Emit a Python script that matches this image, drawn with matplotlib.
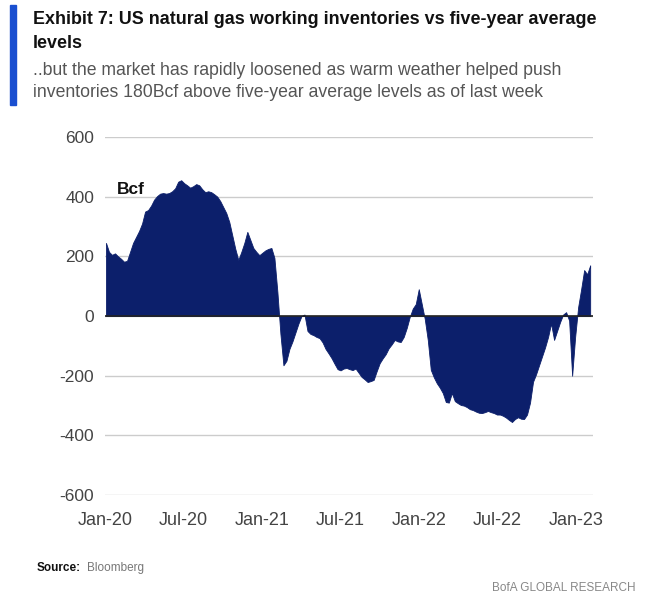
import matplotlib.pyplot as plt
import numpy as np
import pandas as pd

# weekly storage vs five-year average, Bcf
start_week = "2020-01-03"
surplus = [
    245, 215, 205, 210, 200, 192, 182, 185, 215, 245,
    265, 285, 310, 350, 355, 370, 390, 402, 410, 412,
    410, 412, 418, 428, 450, 455, 445, 438, 430, 435,
    442, 438, 425, 415, 418, 415, 408, 400, 385, 365,
    345, 315, 270, 225, 188, 215, 245, 282, 255, 228,
    215, 204, 212, 220, 225, 228, 195, 80, -60, -165,
    -150, -110, -85, -55, -25, 0, 5, -50, -60, -64,
    -70, -74, -88, -110, -125, -141, -160, -178, -182, -176,
    -174, -178, -181, -176, -190, -204, -212, -221, -218, -214,
    -185, -158, -142, -128, -108, -95, -80, -85, -87, -70,
    -40, -3, 25, 40, 90, 40, -10, -80, -180, -205,
    -225, -240, -258, -288, -290, -258, -285, -292, -298, -300,
    -305, -312, -315, -320, -324, -325, -322, -318, -322, -325,
    -330, -330, -334, -340, -348, -355, -345, -339, -344, -345,
    -330, -290, -220, -195, -165, -135, -105, -70, -25, -80,
    -50, -20, 5, 13, -15, -200, -70, 30, 90, 154,
    140, 170,
]
weeks = pd.date_range(start_week, periods=len(surplus), freq="7D")

y_ticks = [-600, -400, -200, 0, 200, 400, 600]
x_ticks = ["2020-01-01", "2020-07-01", "2021-01-01", "2021-07-01",
           "2022-01-01", "2022-07-01", "2023-01-01"]
x_labels = ["Jan-20", "Jul-20", "Jan-21", "Jul-21", "Jan-22", "Jul-22", "Jan-23"]

font = ["Liberation Sans", "DejaVu Sans"]
navy = "#0c1f6b"

fig = plt.figure(figsize=(6.45, 5.98), dpi=100)
ax = fig.add_axes([0.163, 0.172, 0.756, 0.599])

ax.fill_between(weeks, surplus, 0, color=navy, lw=0.6, edgecolor=navy)
ax.axhline(0, color="#222222", lw=1.2, zorder=3)

ax.set_ylim(-600, 600)
ax.set_xlim(pd.Timestamp("2020-01-01"), pd.Timestamp("2023-02-09"))
ax.set_yticks(y_ticks)
ax.set_yticklabels([str(v) for v in y_ticks], family=font, fontsize=12.5, color="#444444")
ax.set_xticks(pd.to_datetime(x_ticks))
ax.set_xticklabels(x_labels, family=font, fontsize=13, color="#444444")
ax.tick_params(length=0, pad=8)
ax.tick_params(axis="x", pad=12)
ax.yaxis.grid(True, color="#cccccc", lw=1)
ax.set_axisbelow(True)
for s in ax.spines.values():
    s.set_visible(False)

ax.text(0.025, 0.84, "Bcf", transform=ax.transAxes, family=font,
        fontweight="bold", fontsize=12.5, color="#111111")

# header
fig.patches.append(plt.Rectangle((0.016, 0.825), 0.009, 0.167, transform=fig.transFigure,
                                 color="#1a4fd0"))
fig.text(0.051, 0.968, "Exhibit 7: US natural gas working inventories vs five-year average",
         family=font, fontweight="bold", fontsize=12.9, color="#111111", va="center")
fig.text(0.051, 0.927, "levels", family=font, fontweight="bold", fontsize=12.9,
         color="#111111", va="center")
fig.text(0.051, 0.882, "..but the market has rapidly loosened as warm weather helped push",
         family=font, fontsize=12.7, color="#555555", va="center")
fig.text(0.051, 0.845, "inventories 180Bcf above five-year average levels as of last week",
         family=font, fontsize=12.7, color="#555555", va="center")

# footer
fig.text(0.057, 0.05, "Source:", family=font, fontweight="bold", fontsize=8.5,
         color="#111111", va="center")
fig.text(0.135, 0.05, "Bloomberg", family=font, fontsize=8.5, color="#777777", va="center")
fig.text(0.985, 0.017, "BofA GLOBAL RESEARCH", family=font, fontsize=8.5,
         color="#888888", ha="right", va="center")

fig.savefig("out.png", dpi=100)
